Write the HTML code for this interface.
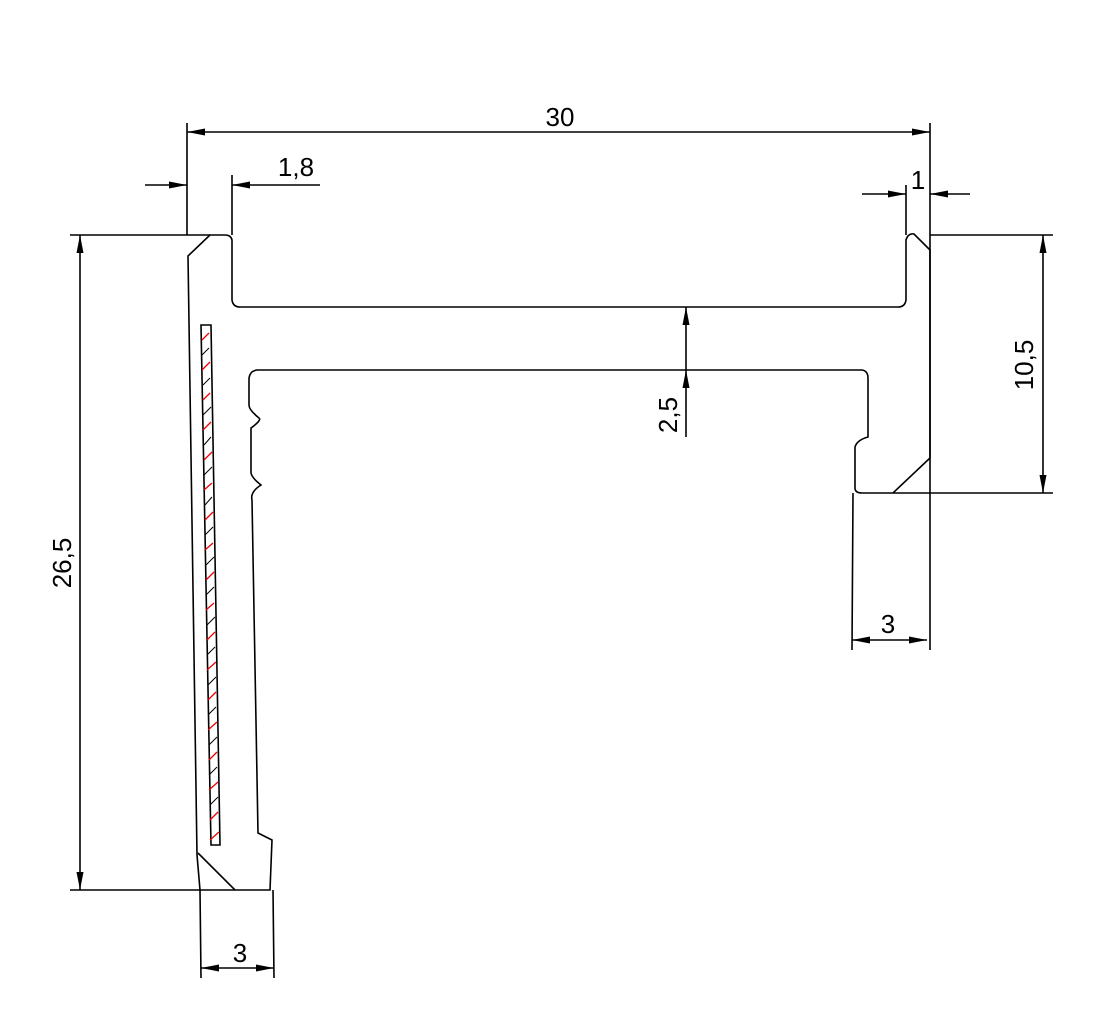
<!DOCTYPE html>
<html><head><style>
body{margin:0;background:#fff;}
svg{display:block;}
text{font-family:"Liberation Sans",sans-serif;font-size:26px;fill:#000;}
</style></head><body>
<svg width="1115" height="1033" viewBox="0 0 1115 1033" xmlns="http://www.w3.org/2000/svg">
<defs>
<marker id="a" viewBox="0 0 18 8" refX="18" refY="4" markerWidth="18" markerHeight="8" orient="auto-start-reverse" markerUnits="userSpaceOnUse"><path d="M0,0.5 L18,4 L0,7.5 Z" fill="#000"/></marker>
</defs>
<g fill="none" stroke="#000" stroke-width="1.6">
<path d="M210,235 L188,256 L197,855 L200,890 L270,890 L272,840 L258,833 L252,500 Q250,492 261,485 Q252,478 251,473 L251,428 Q262,420 259,418 Q249,410 249,405 L249,378 Q250,371 257,370 L862,370 Q868,371 868,378 L868,437 Q857,440 855,447 L855,488 Q855,493 862,493 L893,493 L930,458 L930,250 L914,234 Q908,233 906,240 L906,300 Q905,307 898,307 L240,307 Q233,307 232,300 L232,240 Q231,235 225,235 Z"/>
<path d="M198,853 L235,890"/>
<path d="M201,325 L211,325 L220,845 L211,845 Z"/>
<path d="M70,235 L210,235 M70,890 L200,890 M930,235 L1053,235 M893,493 L1053,493 M187,123 L187,235 M930,123 L930,650 M232,175 L232,235 M906,185 L906,235 M853,493 L852,650 M200,890 L201,978 M273,890 L274,978"/>
<path d="M187,132 L930,132" marker-start="url(#a)" marker-end="url(#a)"/>
<path d="M145,185 L187,185" marker-end="url(#a)"/>
<path d="M320,185 L232,185" marker-end="url(#a)"/>
<path d="M862,194 L906,194" marker-end="url(#a)"/>
<path d="M970,194 L930,194" marker-end="url(#a)"/>
<path d="M1043,235 L1043,493" marker-start="url(#a)" marker-end="url(#a)"/>
<path d="M80,235 L80,890" marker-start="url(#a)" marker-end="url(#a)"/>
<path d="M686,437 L686,370" marker-end="url(#a)"/>
<path d="M686,350 L686,307" marker-end="url(#a)"/>
<path d="M686,350 L686,370"/>
<path d="M201,968 L274,968" marker-start="url(#a)" marker-end="url(#a)"/>
<path d="M852,640 L927,640" marker-start="url(#a)" marker-end="url(#a)"/>
</g>
<g stroke="#e00" stroke-width="1.3">
<path d="M202,340 L209,333 M202,370 L210,362 M203,400 L210,393 M203,430 L211,422 M204,460 L212,452 M204,490 L212,483 M205,520 L213,512 M205,550 L213,543 M206,580 L214,572 M206,610 L214,603 M207,640 L215,632 M207,670 L216,662 M208,700 L216,692 M208,730 L217,722 M209,760 L217,752 M209,790 L218,782 M210,820 L218,812 M210,840 L219,832"/>
</g>
<g stroke="#000" stroke-width="1">
<path d="M202,355 L209,348 M203,385 L210,378 M203,415 L211,407 M204,445 L211,437 M204,475 L212,467 M205,505 L212,497 M205,535 L213,527 M206,565 L214,557 M206,595 L214,587 M207,625 L215,617 M207,655 L215,647 M208,685 L216,677 M208,715 L216,707 M209,745 L217,737 M209,775 L217,767 M210,805 L218,797"/>
</g>
<text x="560" y="126" text-anchor="middle">30</text>
<text x="296" y="176" text-anchor="middle">1,8</text>
<text x="918" y="189" text-anchor="middle">1</text>
<text x="240" y="962" text-anchor="middle">3</text>
<text x="888" y="633" text-anchor="middle">3</text>
<text transform="translate(1033,365) rotate(-90)" text-anchor="middle">10,5</text>
<text transform="translate(677,415) rotate(-90)" text-anchor="middle">2,5</text>
<text transform="translate(71,563) rotate(-90)" text-anchor="middle">26,5</text>
</svg>
</body></html>
